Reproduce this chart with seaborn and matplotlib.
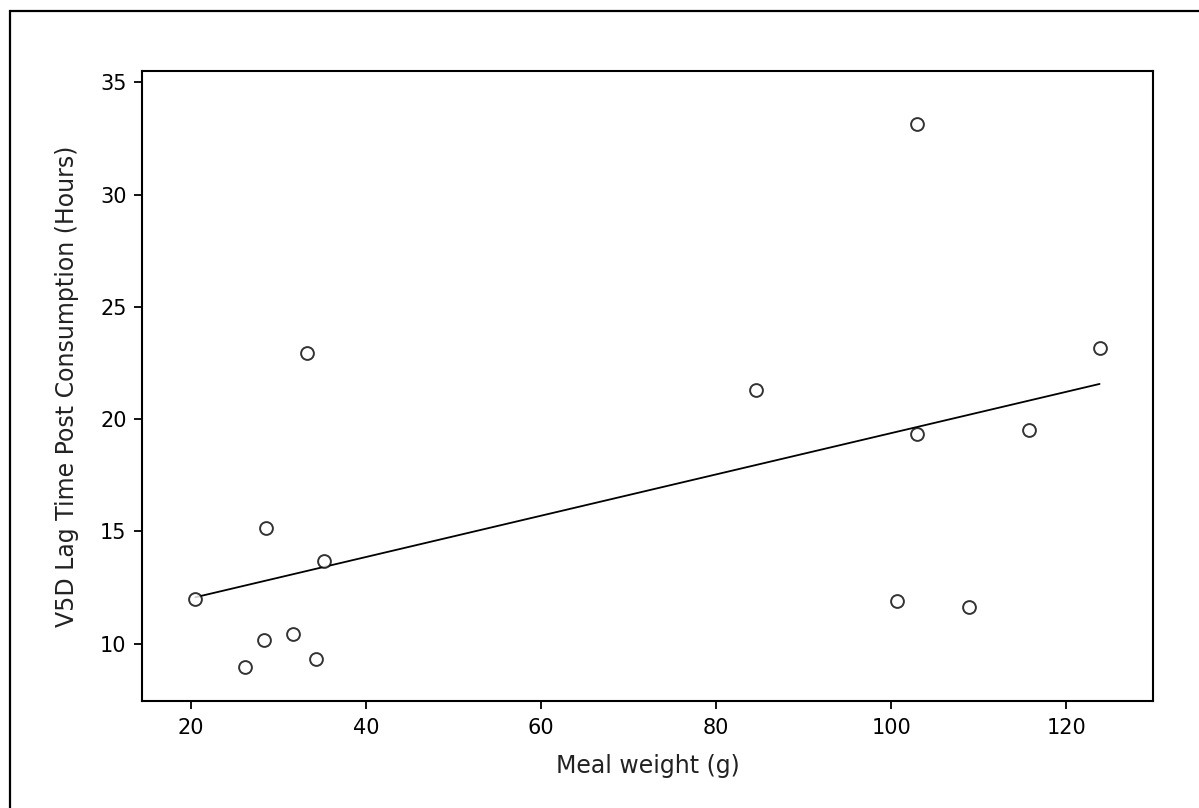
import matplotlib
matplotlib.use("Agg")
import matplotlib.pyplot as plt
from matplotlib.patches import Rectangle
import seaborn as sns
import numpy as np
import pandas as pd

# meal weight (g) and VSD lag time (hours)
mealWeight = [20.5, 26.2, 28.3, 28.6, 31.7, 33.3, 34.3, 35.2,
              84.5, 100.7, 102.9, 102.9, 108.9, 115.7, 123.8]
lagTime = [12.0, 8.95, 10.15, 15.15, 10.45, 22.95, 9.3, 13.7,
           21.3, 11.9, 33.15, 19.35, 11.65, 19.5, 23.15]
xTicks = [20, 40, 60, 80, 100, 120]
yTicks = [10, 15, 20, 25, 30, 35]

df = pd.DataFrame({"meal": mealWeight, "lag": lagTime})

sns.set_style("white")
plt.rcParams['font.family'] = ['DejaVu Sans']

fig = plt.figure(figsize=(11.99, 8.08), dpi=100)
ax = fig.add_axes([0.1184, 0.1324, 0.8432, 0.7797])

# scatter with open circles and a plain least-squares line
sns.regplot(data=df, x="meal", y="lag", ax=ax, ci=None, color="black",
            scatter_kws={"s": 85, "facecolors": "white", "edgecolors": "black",
                         "linewidths": 1.4, "zorder": 3},
            line_kws={"linewidth": 1.3, "zorder": 2})

ax.set_xlim(14.4, 129.9)
ax.set_ylim(7.45, 35.5)
ax.set_xticks(xTicks)
ax.set_yticks(yTicks)
ax.tick_params(direction="out", length=6, width=1.3, labelsize=15,
               colors="black", bottom=True, left=True)
ax.tick_params(axis="x", pad=6)
ax.tick_params(axis="y", pad=5)
for sp in ax.spines.values():
    sp.set_visible(True)
    sp.set_color("black")
    sp.set_linewidth(1.5)

ax.set_xlabel("Meal weight (g)", fontsize=17, color="#222222", labelpad=12)
ax.set_ylabel("V5D Lag Time Post Consumption (Hours)", fontsize=17,
              color="#222222", labelpad=15)

# outer frame around the whole picture
fig.patches.append(Rectangle((10 / 1199, -0.1), 1.2, 1.0864, fill=False,
                             edgecolor="black", linewidth=1.6,
                             transform=fig.transFigure))

fig.savefig("out.png", dpi=100)
